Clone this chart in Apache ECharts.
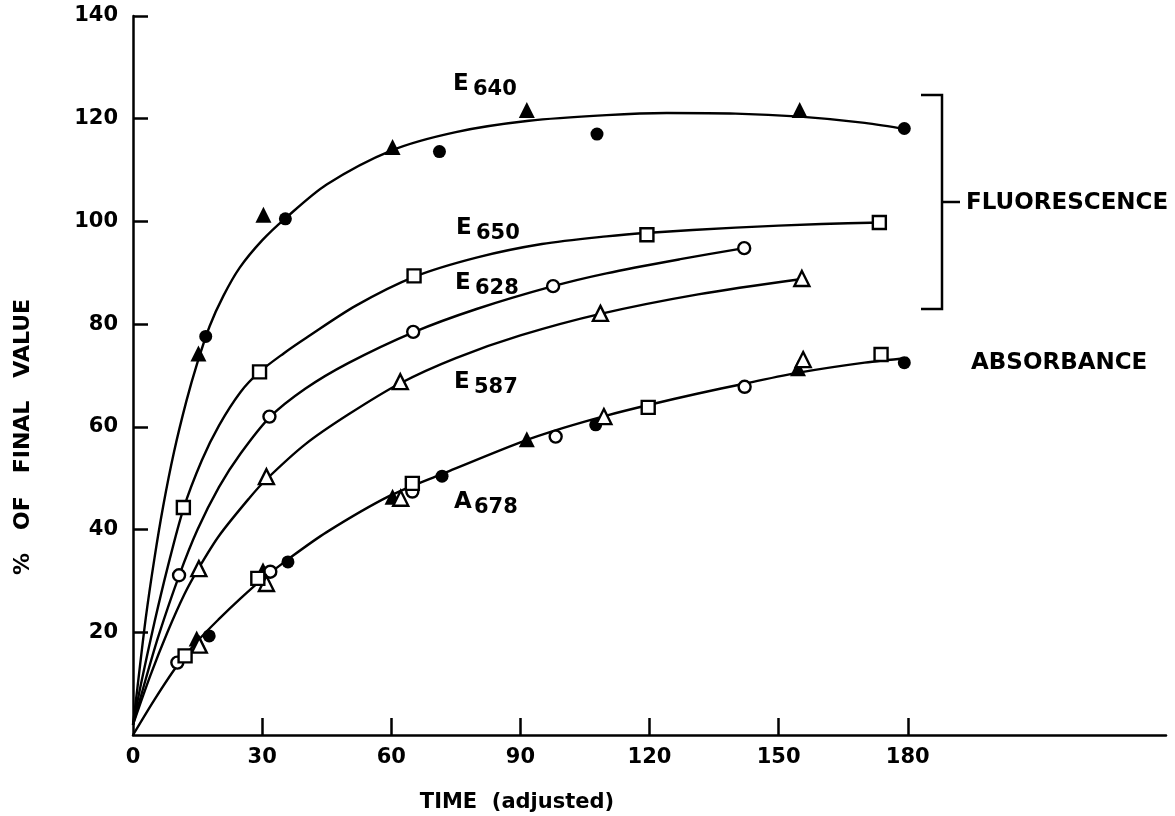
<!DOCTYPE html>
<html>
<head>
<meta charset="utf-8">
<script src="https://cdn.jsdelivr.net/npm/echarts@6/dist/echarts.min.js"></script>
<style>
html,body{margin:0;padding:0;background:#fff;}
#chart{width:1175px;height:816px;}
</style>
</head>
<body>
<div id="chart"></div>
<script>
// ---------- tick labels ----------
const xLabelValues = [0, 30, 60, 90, 120, 150, 180];
const xTickValues = [30, 60, 90, 120, 150, 180];
const yTickValues = [20, 40, 60, 80, 100, 120, 140];

// ---------- fitted curves ----------
const curveE640 = [[0,2],[1,9],[3,23],[5,34.5],[7,44.5],[9.5,55],[12.4,65],[15,72.6],[17.8,79.6],[21,85.5],[24.8,91],[30,96.3],[35.4,100.6],[45,107.2],[60,113.8],[75,117.4],[92,119.6],[110,120.7],[124,121.1],[140,121],[155,120.4],[170,119.2],[180,117.9]];
const curveE650 = [[0,2],[2,10.5],[5,22],[8,32.5],[11.7,44],[16,53.5],[20,60.3],[25,66.8],[29.4,70.7],[35,74.3],[40.2,77.3],[51.8,83.6],[65.3,89.2],[80,93],[95,95.6],[110,97.1],[120,97.8],[140,98.8],[160,99.5],[174,99.8]];
const curveE628 = [[0,2],[3,11],[6,19.5],[10.7,31],[15,40],[20,48.3],[25,54.8],[31.7,61.8],[40,67.4],[50,72.4],[65.1,78.4],[80,83],[97.6,87.4],[110,89.9],[127.5,92.7],[142,94.8]];
const curveE587 = [[0,2],[4,11.5],[8,20],[12,27.5],[15.2,32.4],[20,38.8],[27.1,46.2],[31,49.8],[40,56.6],[50,62.4],[62.1,68.5],[75,73.4],[90,77.8],[108.6,82],[131.3,85.8],[155.4,88.8]];
const curveA678 = [[0,0],[5,6.9],[10,13.2],[15,18.3],[20,22.6],[25,26.6],[30,30.3],[36,34.2],[45,39.5],[59.5,46.5],[72,50.9],[90,57],[100,59.8],[110,62.2],[120,64.3],[131.3,66.5],[142,68.4],[155,70.6],[170,72.5],[180,73.4]];

// ---------- measured points ----------
// fluorescence
const e640Triangles = [[15.2,74.3],[30.3,101.3],[60.3,114.5],[91.5,121.7],[154.9,121.7]];
const e640Circles   = [[16.9,77.6],[35.4,100.5],[71.2,113.6],[107.8,117.0],[179.2,118.1]];
const e650Squares   = [[11.7,44.3],[29.4,70.7],[65.3,89.4],[119.4,97.4],[173.4,99.8]];
const e628Circles   = [[10.7,31.1],[31.7,62.0],[65.1,78.5],[97.6,87.4],[142.0,94.8]];
const e587Triangles = [[15.3,32.4],[31.0,50.3],[62.1,68.8],[108.6,82.1],[155.4,88.9]];
// absorbance (A678)
const aFilledCircles   = [[17.7,19.3],[36.0,33.7],[71.8,50.4],[107.5,60.4],[179.2,72.5]];
const aFilledTriangles = [[14.8,18.8],[30.2,32.1],[60.3,46.4],[91.5,57.6],[154.5,71.4]];
const aOpenCircles     = [[10.3,14.1],[31.9,31.8],[64.9,47.4],[98.2,58.1],[142.1,67.8]];
const aOpenTriangles   = [[15.4,17.5],[31.0,29.5],[62.2,46.1],[109.4,62.0],[155.7,73.1]];
const aOpenSquares     = [[12.1,15.4],[29.0,30.5],[64.9,49.0],[119.7,63.8],[173.8,74.1]];

// ---------- texts ----------
const yAxisTitle = '%   OF   FINAL   VALUE';
const xAxisTitle = 'TIME  (adjusted)';
const bracketLabel = 'FLUORESCENCE';
const absorbanceLabel = 'ABSORBANCE';

const FONT = "'DejaVu Sans', sans-serif";

function curve(data) {
  return { type: 'line', data: data, smooth: 0.3, symbol: 'none', showSymbol: false,
    lineStyle: { color: '#000', width: 2.4 }, silent: true, z: 2 };
}
function marks(data, symbol, filled, size) {
  return { type: 'scatter', data: data, symbol: symbol, symbolSize: size,
    itemStyle: filled ? { color: '#000', opacity: 1 } : { color: '#fff', borderColor: '#000', borderWidth: 2.4, opacity: 1 },
    silent: true, z: 3 };
}

const chart = echarts.init(document.getElementById('chart'), null, { renderer: 'canvas' });

function sub(main, digits, left, cy) {
  return [
    { type: 'text', x: left, y: cy, style: { text: main, font: 'bold 23px ' + FONT, fill: '#000', textAlign: 'left', textVerticalAlign: 'middle' } },
    { type: 'text', x: left + 20, y: cy + 6, style: { text: digits, font: 'bold 21px ' + FONT, fill: '#000', textAlign: 'left', textVerticalAlign: 'middle' } }
  ];
}

const option = {
  animation: false,
  backgroundColor: '#fff',
  grid: { left: 133, right: 9, top: 16, bottom: 81, containLabel: false, outerBoundsMode: 'none' },
  xAxis: {
    type: 'value', min: 0, max: 240,
    axisLine: { show: true, lineStyle: { color: '#000', width: 2.5 } },
    axisTick: { show: true, inside: true, length: 17, customValues: xTickValues, lineStyle: { color: '#000', width: 2.5 } },
    axisLabel: { show: true, customValues: xLabelValues, color: '#000', fontSize: 21, fontWeight: 'bold', fontFamily: FONT, margin: 12 },
    splitLine: { show: false }
  },
  yAxis: {
    type: 'value', min: 0, max: 140, interval: 20,
    axisLine: { show: true, lineStyle: { color: '#000', width: 2.5 } },
    axisTick: { show: true, inside: true, length: 15, customValues: yTickValues, lineStyle: { color: '#000', width: 2.5 } },
    axisLabel: { show: true, customValues: yTickValues, color: '#000', fontSize: 21, fontWeight: 'bold', fontFamily: FONT, margin: 15 },
    splitLine: { show: false }
  },
  series: [
    curve(curveE640), curve(curveE650), curve(curveE628), curve(curveE587), curve(curveA678),
    marks(e640Triangles, 'triangle', true, 16),
    marks(e640Circles, 'circle', true, 13),
    marks(e650Squares, 'rect', false, 13),
    marks(e628Circles, 'circle', false, 12),
    marks(e587Triangles, 'triangle', false, 15),
    marks(aFilledCircles, 'circle', true, 13),
    marks(aFilledTriangles, 'triangle', true, 16),
    marks(aOpenCircles, 'circle', false, 12),
    marks(aOpenTriangles, 'triangle', false, 15),
    marks(aOpenSquares, 'rect', false, 13)
  ],
  graphic: [].concat(
    sub('E', '640', 453, 84),
    sub('E', '650', 456, 228),
    sub('E', '628', 455, 283),
    sub('E', '587', 454, 382),
    sub('A', '678', 454, 502),
    [
      { type: 'polyline', shape: { points: [[921, 95], [942, 95], [942, 309], [921, 309]] }, style: { stroke: '#000', lineWidth: 2.5, fill: null } },
      { type: 'line', shape: { x1: 942, y1: 202, x2: 960, y2: 202 }, style: { stroke: '#000', lineWidth: 2.5 } },
      { type: 'text', x: 966, y: 203, style: { text: bracketLabel, font: 'bold 23px ' + FONT, fill: '#000', textAlign: 'left', textVerticalAlign: 'middle' } },
      { type: 'text', x: 971, y: 363, style: { text: absorbanceLabel, font: 'bold 23px ' + FONT, fill: '#000', textAlign: 'left', textVerticalAlign: 'middle' } },
      { type: 'text', x: 517, y: 803, style: { text: xAxisTitle, font: 'bold 21px ' + FONT, fill: '#000', textAlign: 'center', textVerticalAlign: 'middle' } },
      { type: 'text', x: 23, y: 437, rotation: Math.PI / 2, style: { text: yAxisTitle, font: 'bold 22px ' + FONT, fill: '#000', textAlign: 'center', textVerticalAlign: 'middle' } }
    ]
  )
};
chart.setOption(option);
</script>
</body>
</html>
